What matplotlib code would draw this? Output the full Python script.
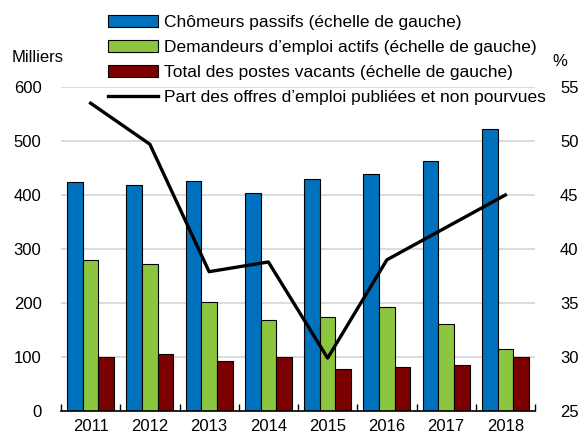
import matplotlib.pyplot as plt
import numpy as np

plt.rcParams['font.family'] = ['Liberation Sans', 'DejaVu Sans']
plt.rcParams['font.size'] = 12

######### DATA #########

years = ["2011", "2012", "2013", "2014", "2015", "2016", "2017", "2018"]
passifs = [424, 418, 425, 403, 430, 438, 463, 522]
actifs = [280, 273, 202, 168, 175, 192, 161, 115]
vacants = [100, 105, 93, 100, 78, 81, 85, 100]
part_non_pourvues = [53.5, 49.7, 37.9, 38.8, 29.9, 39.0, 42.0, 45.0]

labels = ["Chômeurs passifs (échelle de gauche)",
          "Demandeurs d’emploi actifs (échelle de gauche)",
          "Total des postes vacants (échelle de gauche)",
          "Part des offres d’emploi publiées et non pourvues"]

c = ["#0071BC", "#8CC63F", "#7B0000"]

######### PLOT #########

fig = plt.figure(figsize=(5.79, 4.36), dpi=100)
ax = fig.add_axes([61 / 579, 1 - 411 / 436, 474 / 579, 324 / 436])
ax2 = ax.twinx()

x = np.arange(len(years))
w = 0.265
b1 = ax.bar(x - w, passifs, w, color=c[0], edgecolor="black", lw=0.8)
b2 = ax.bar(x, actifs, w, color=c[1], edgecolor="black", lw=0.8)
b3 = ax.bar(x + w, vacants, w, color=c[2], edgecolor="black", lw=0.8)
l1, = ax2.plot(x, part_non_pourvues, color="black", lw=2.4)

ax.set_ylim(0, 600)
ax.set_yticks(range(0, 601, 100))
ax.set_xlim(-0.5, len(years) - 0.5)
ax.set_xticks(x)
ax.set_xticklabels(years)
ax.set_xticks(np.arange(-0.5, len(years)), minor=True)
ax.tick_params(axis="x", which="major", length=0, pad=6)
ax.tick_params(axis="x", which="minor", direction="in", length=5, width=1)
ax.tick_params(axis="y", length=0, pad=14)
ax.grid(axis="y", color="#d9d9d9", lw=1.3)
ax.set_axisbelow(True)

ax2.set_ylim(25, 55)
ax2.set_yticks(range(25, 56, 5))
ax2.tick_params(axis="y", length=0, pad=18)

for a in (ax, ax2):
    for s in ("left", "right", "top"):
        a.spines[s].set_visible(False)
ax.spines["bottom"].set_linewidth(1.2)
ax2.spines["bottom"].set_visible(False)

fig.text(12 / 579, 1 - 57 / 436, "Milliers", va="center", ha="left")
fig.text(552 / 579, 1 - 62 / 436, "%", va="center", ha="left")

fig.legend([b1, b2, b3, l1], labels, loc="upper left",
           bbox_to_anchor=(108 / 579, 1 - 15 / 436), frameon=False,
           fontsize=12.5,
           handlelength=2.9, handleheight=0.72, handletextpad=0.3,
           labelspacing=0.56, borderpad=0, borderaxespad=0)

fig.savefig("out.png", dpi=100)
